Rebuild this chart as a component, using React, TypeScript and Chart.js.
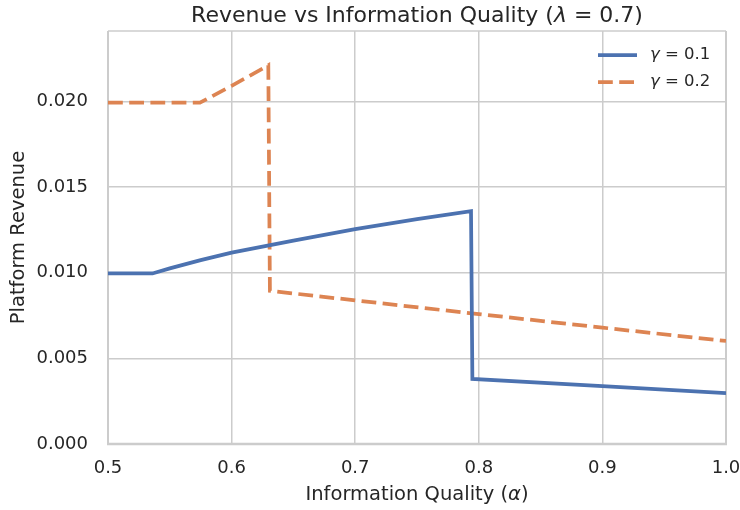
import React, { useEffect, useRef } from "react";
import { Chart, registerables } from "chart.js";

Chart.register(...registerables);

const TITLE_MAIN = "Revenue vs Information Quality (";
const TITLE_SYM = "λ";
const TITLE_END = " = 0.7)";
const X_TITLE_MAIN = "Information Quality (";
const X_TITLE_SYM = "α";
const X_TITLE_END = ")";
const Y_TITLE = "Platform Revenue";

const alphaG1 = [0.5, 0.536, 0.55, 0.575, 0.6, 0.65, 0.7, 0.75, 0.7937, 0.7948, 0.9, 1.0];
const revenueG1 = [0.00995, 0.00995, 0.01025, 0.01073, 0.01117, 0.01187, 0.01254, 0.01312, 0.01359, 0.0038, 0.00338, 0.00297];

const alphaG2 = [0.5, 0.5744, 0.6, 0.6297, 0.631, 0.7, 0.8, 0.9, 1.0];
const revenueG2 = [0.01992, 0.01992, 0.0209, 0.0221, 0.00894, 0.00838, 0.00758, 0.00679, 0.00601];

const seriesSym = ["γ", "γ"];
const seriesVal = ["0.1", "0.2"];

const xTicks = [0.5, 0.6, 0.7, 0.8, 0.9, 1.0];
const yMax = 0.0241;

const FONT = "'DejaVu Sans', sans-serif";
const TEXT = "#262626";
const GRID = "#cccccc";
const BLUE = "#4c72b0";
const ORANGE = "#dd8452";

function drawMixed(ctx: CanvasRenderingContext2D, parts: [string, boolean][], cx: number, cy: number, size: number, align: "center" | "left") {
  const widths = parts.map(([t, it]) => {
    ctx.font = `${it ? "italic " : ""}${size}px ${FONT}`;
    return ctx.measureText(t).width;
  });
  const total = widths.reduce((a, b) => a + b, 0);
  let x = align === "center" ? cx - total / 2 : cx;
  ctx.textBaseline = "middle";
  ctx.textAlign = "left";
  parts.forEach(([t, it], i) => {
    ctx.font = `${it ? "italic " : ""}${size}px ${FONT}`;
    ctx.fillText(t, x, cy);
    x += widths[i];
  });
}

const decorPlugin = {
  id: "decor",
  beforeDatasetsDraw(chart: any) {
    const { ctx, chartArea } = chart;
    const { left, right, top, bottom } = chartArea;
    ctx.save();
    ctx.strokeStyle = GRID;
    ctx.lineWidth = 1.5;
    ctx.beginPath();
    ctx.moveTo(left, top);
    ctx.lineTo(right, top);
    ctx.stroke();
    ctx.lineWidth = 2;
    ctx.beginPath();
    ctx.moveTo(left, top);
    ctx.lineTo(left, bottom);
    ctx.moveTo(right, top);
    ctx.lineTo(right, bottom);
    ctx.stroke();
    ctx.lineWidth = 2.5;
    ctx.beginPath();
    ctx.moveTo(left - 1, bottom);
    ctx.lineTo(right + 1, bottom);
    ctx.stroke();
    ctx.restore();
  },
  afterDraw(chart: any) {
    const { ctx, chartArea } = chart;
    ctx.save();
    ctx.fillStyle = TEXT;
    drawMixed(ctx, [[TITLE_MAIN, false], [TITLE_SYM, true], [TITLE_END, false]], (chartArea.left + chartArea.right) / 2, 16, 22, "center");
    drawMixed(ctx, [[X_TITLE_MAIN, false], [X_TITLE_SYM, true], [X_TITLE_END, false]], (chartArea.left + chartArea.right) / 2, 495, 19.5, "center");
    // legend
    const ds = chart.data.datasets;
    const lx0 = 598, lx1 = 637, tx = 650;
    const ys = [55, 82];
    ds.forEach((d: any, i: number) => {
      ctx.strokeStyle = d.borderColor;
      ctx.lineWidth = d.borderWidth;
      ctx.setLineDash(d.borderDash || []);
      ctx.beginPath();
      ctx.moveTo(lx0, ys[i]);
      ctx.lineTo(lx1, ys[i]);
      ctx.stroke();
      ctx.setLineDash([]);
      ctx.fillStyle = TEXT;
      drawMixed(ctx, [[seriesSym[i], true], [" = " + seriesVal[i], false]], tx, ys[i], 16.5, "left");
    });
    ctx.restore();
  },
};

export default function App() {
  const ref = useRef<HTMLCanvasElement>(null);
  useEffect(() => {
    document.body.style.margin = "0";
    const canvas = ref.current!;
    const chart = new Chart(canvas, {
      type: "line",
      data: {
        datasets: [
          {
            label: seriesSym[0] + " = " + seriesVal[0],
            data: alphaG1.map((x, i) => ({ x, y: revenueG1[i] })),
            borderColor: BLUE,
            backgroundColor: BLUE,
            borderWidth: 3.75,
            pointRadius: 0,
            tension: 0,
            fill: false,
          },
          {
            label: seriesSym[1] + " = " + seriesVal[1],
            data: alphaG2.map((x, i) => ({ x, y: revenueG2[i] })),
            borderColor: ORANGE,
            backgroundColor: ORANGE,
            borderWidth: 3.75,
            borderDash: [14.8, 6.4],
            pointRadius: 0,
            tension: 0,
            fill: false,
          },
        ],
      },
      options: {
        responsive: false,
        animation: false,
        layout: { padding: { left: 0, right: 14, top: 31, bottom: 0 } },
        plugins: {
          legend: { display: false },
          title: { display: false },
          tooltip: { enabled: false },
        },
        scales: {
          x: {
            type: "linear",
            min: 0.5,
            max: 1.0,
            afterBuildTicks: (scale: any) => {
              scale.ticks = xTicks.map((v) => ({ value: v }));
            },
            afterFit: (scale: any) => {
              scale.height = 66;
              scale.paddingLeft = 0;
              scale.paddingRight = 0;
            },
            grid: { color: GRID, lineWidth: 1.5, drawTicks: false },
            border: { display: false },
            ticks: {
              padding: 14,
              color: TEXT,
              font: { family: FONT, size: 18 },
              callback: (v: any) => Number(v).toFixed(1),
            },
          },
          y: {
            type: "linear",
            min: 0,
            max: yMax,
            afterFit: (scale: any) => {
              scale.width = 108;
              scale.paddingTop = 0;
              scale.paddingBottom = 0;
            },
            grid: { color: GRID, lineWidth: 1.5, drawTicks: false },
            border: { display: false },
            ticks: {
              stepSize: 0.005,
              includeBounds: false,
              padding: 20,
              color: TEXT,
              font: { family: FONT, size: 18 },
              callback: (v: any) => Number(v).toFixed(3),
            },
            title: {
              display: true,
              text: Y_TITLE,
              color: TEXT,
              font: { family: FONT, size: 19.5 },
              padding: { top: 7, bottom: 0 },
            },
          },
        },
      },
      plugins: [decorPlugin],
    });
    return () => chart.destroy();
  }, []);
  return <canvas ref={ref} width={740} height={510} style={{ display: "block" }} />;
}
